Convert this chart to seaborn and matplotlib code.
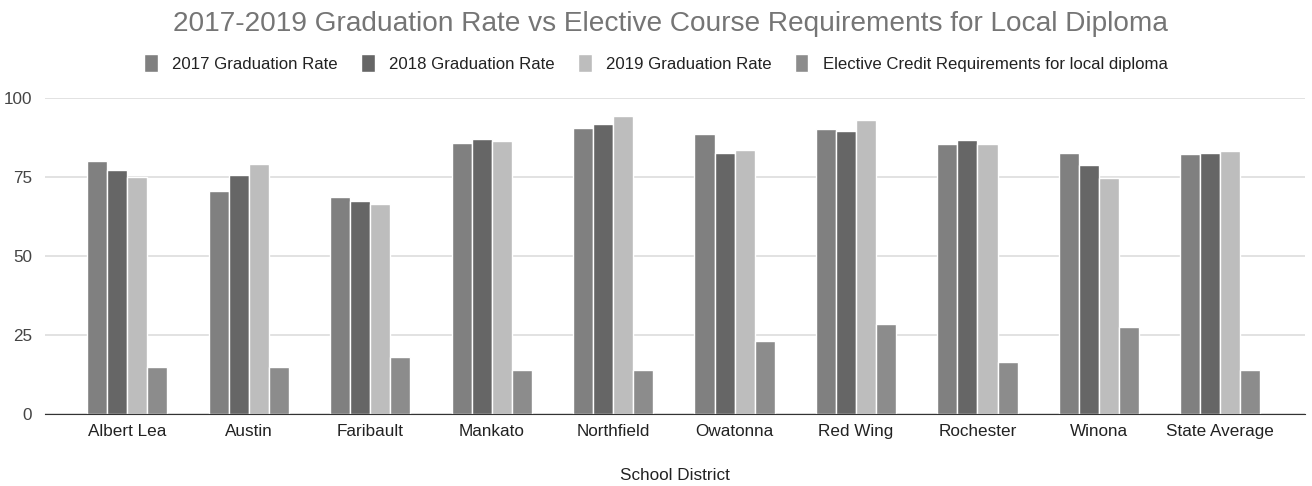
import pandas as pd
import matplotlib.pyplot as plt
import seaborn as sns

# ── data ─────────────────────────────────────────────────────────────────────
districts = ["Albert Lea", "Austin", "Faribault", "Mankato", "Northfield",
             "Owatonna", "Red Wing", "Rochester", "Winona", "State Average"]
series = ["2017 Graduation Rate", "2018 Graduation Rate", "2019 Graduation Rate",
          "Elective Credit Requirements for local diploma"]
rate_2017 = [80.1, 70.7, 68.8, 85.9, 90.7, 88.6, 90.3, 85.4, 82.8, 82.3]
rate_2018 = [77.4, 75.6, 67.5, 87.2, 91.9, 82.8, 89.5, 86.7, 78.7, 82.8]
rate_2019 = [75.1, 79.1, 66.6, 86.3, 94.5, 83.6, 93.0, 85.4, 74.6, 83.2]
elective = [15, 15, 18, 14, 14, 23, 28.5, 16.5, 27.5, 14]
colors = ["#808080", "#666666", "#bdbdbd", "#8c8c8c"]

rows = []
for s, vals in zip(series, [rate_2017, rate_2018, rate_2019, elective]):
    for d, v in zip(districts, vals):
        rows.append({"School District": d, "series": s, "value": v})
df = pd.DataFrame(rows)

# ── plot ─────────────────────────────────────────────────────────────────────
sns.set_style("white")
plt.rcParams['font.family'] = ['Liberation Sans', 'DejaVu Sans']

fig = plt.figure(figsize=(13.12, 4.86), dpi=100)
ax = fig.add_axes([0.034, 0.148, 0.961, 0.65])

sns.barplot(data=df, x="School District", y="value", hue="series",
            palette=colors, width=0.66, edgecolor="white", linewidth=1,
            ax=ax)

ax.set_ylim(0, 100)
ax.set_xlim(-0.68, 9.7)
ax.set_yticks([0, 25, 50, 75, 100])
ax.yaxis.grid(True, color="#dddddd", linewidth=1.2)
ax.set_axisbelow(True)
for side in ["top", "right", "left"]:
    ax.spines[side].set_visible(False)
ax.spines["bottom"].set_color("#333333")
ax.tick_params(axis="both", length=0, labelsize=12.3, colors="#222222")
ax.tick_params(axis="y", pad=9, colors="#444444")
ax.tick_params(axis="x", pad=7)
ax.set_ylabel("")
ax.set_xlabel("School District", fontsize=12.3, color="#222222", labelpad=21)

ax.legend(loc="center", bbox_to_anchor=(0.5, 1 - 63 / 486), bbox_transform=fig.transFigure,
          ncol=4, frameon=False, fontsize=12.1, handlelength=0.8, handleheight=1.3,
          columnspacing=1.4, handletextpad=0.85, labelcolor="#222222")

fig.suptitle("2017-2019 Graduation Rate vs Elective Course Requirements for Local Diploma",
             fontsize=20.2, color="#757575", x=0.511, y=0.978)

plt.savefig("out.png", dpi=100)
